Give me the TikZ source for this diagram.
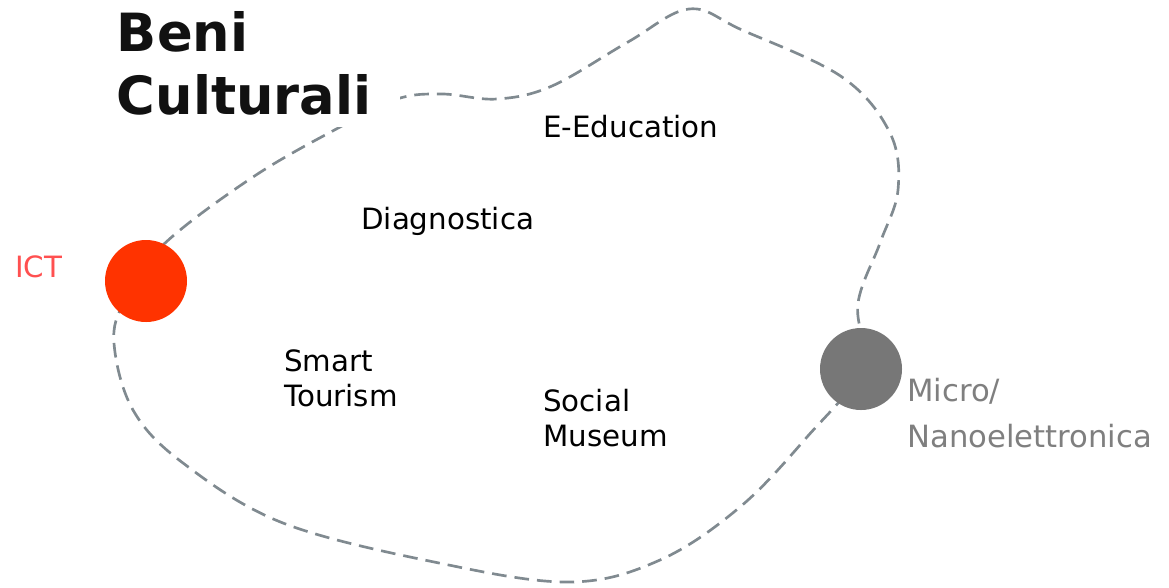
\documentclass[tikz,border=0pt]{standalone}
\usepackage{fontspec}
\setmainfont{DejaVu Sans}
\definecolor{ictred}{HTML}{FF3300}
\definecolor{ictlabel}{HTML}{FF5050}
\definecolor{chipgrey}{HTML}{777777}
\definecolor{chiplabel}{HTML}{7F7F7F}
\definecolor{fieldline}{HTML}{808A90}
\definecolor{ink}{HTML}{111111}
\tikzset{line width=.8pt,
  every node/.style={font=\fontsize{22}{26.25}\selectfont,inner sep=0pt},
  field/.style={draw=fieldline,line width=2pt,dash pattern=on 11pt off 6pt},
  hub/.style={circle,minimum size=61.5pt,inner sep=0pt},
  topic/.style={anchor=base west,align=left},
  heading/.style={anchor=base west,align=left,fill=white,text=ink,
    font=\fontsize{39.5}{47.25}\selectfont\bfseries,inner xsep=21.5pt,inner ysep=9pt}}

\begin{document}
\begin{tikzpicture}[x=.75pt,y=-.75pt]
\useasboundingbox (0,0) rectangle (1169,587);
% closed dashed field boundary
\draw[field] plot[smooth cycle,tension=.6] coordinates {(125,300) (163,245) (253,177) (340,127)
  (397,99) (442,94) (497,99) (552,86) (628,42) (689,9) (742,30) (842,77) (890,133) (898,190)
  (880,243) (858,303) (861,369) (807,437) (740,507) (660,560) (570,582) (439,563) (283,523)
  (183,463) (133,410) (114,343)};
\node[heading] (beni) at (88,114) {Beni\\Culturali};
\node[hub,fill=ictred] (ict) at (146,281) {};
\node[hub,fill=chipgrey] (micro) at (861,369) {};
\node[topic,text=ictlabel] (ictname) at (15,277) {ICT};
\node[topic,text=chiplabel,font=\fontsize{23}{34}\selectfont] (microname) at (907,447) {Micro/\\Nanoelettronica};
\node[topic] (educ) at (543,137) {E-Education};
\node[topic] (diag) at (361,229) {Diagnostica};
\node[topic] (tour) at (284,406) {Smart\\Tourism};
\node[topic] (museum) at (543,446) {Social\\Museum};
\end{tikzpicture}
\end{document}
